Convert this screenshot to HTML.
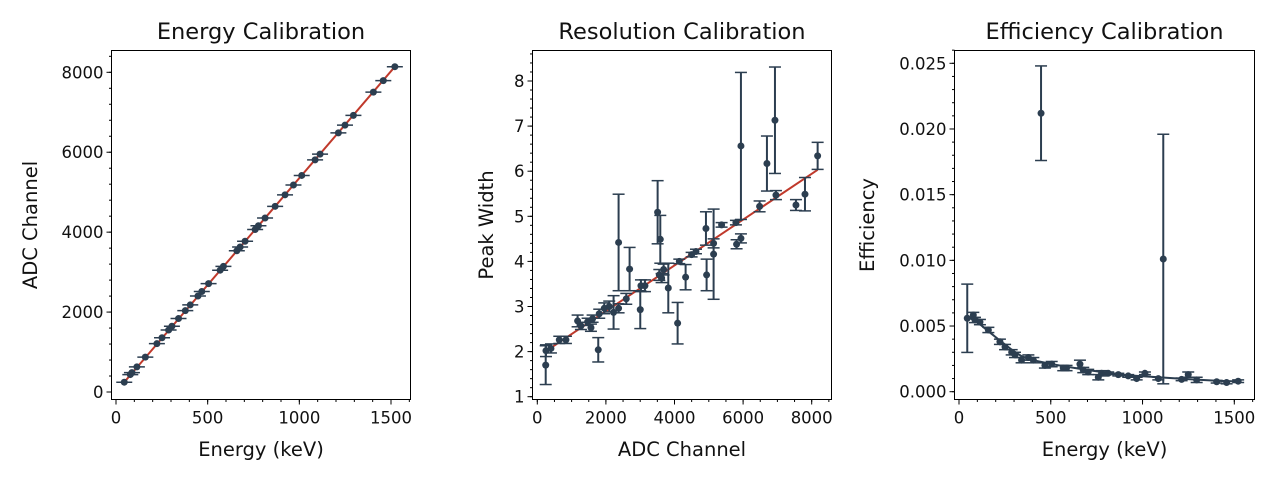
<!DOCTYPE html>
<html><head><meta charset="utf-8">
<style>
body{margin:0;background:#fff;}
svg{display:block;font-family:"DejaVu Sans","Liberation Sans",sans-serif;}
</style></head>
<body>
<svg id="fig" width="1280" height="480"></svg>
<script>
// ---- shared energies (keV) ----
const energies=[45,78,87,114,160,223,251,287,305,341,378,405,447,468,505,568,586,659,677,704,759,777,813,868,922,968,1013,1086,1113,1213,1249,1295,1404,1458,1521];
// ---- panel 1: ADC channel per energy ----
const adcChannels=[245,436,484,628,873,1209,1358,1550,1646,1838,2035,2179,2403,2515,2712,3048,3143,3533,3628,3772,4065,4161,4353,4646,4934,5179,5419,5808,5952,6485,6677,6922,7503,7791,8140];
const energyTicks=[0,500,1000,1500];
const adcTicks=[0,2000,4000,6000,8000];
// ---- panel 2: resolution ----
const resAdc=[245,253,398,641,835,1175,1272,1466,1564,1612,1777,1806,1952,2097,2224,2370,2370,2594,2691,3002,3022,3138,3508,3586,3557,3624,3683,3819,4091,4140,4324,4499,4626,4917,4936,5140,5140,5373,5791,5810,5937,5937,6481,6695,6929,6958,7541,7804,8173];
const resWidth=[1.70,2.02,2.07,2.26,2.26,2.68,2.57,2.66,2.53,2.73,2.04,2.84,2.96,3.0,2.87,4.42,2.96,3.17,3.83,2.93,3.46,3.46,5.09,4.49,3.70,3.63,3.82,3.41,2.63,4.0,3.65,4.15,4.22,4.73,3.70,4.40,4.16,4.81,4.86,4.38,6.56,4.51,5.22,6.17,7.13,5.47,5.25,5.49,6.34];
const resErr=[0.43,0.13,0.1,0.08,0.08,0.13,0.08,0.08,0.08,0.08,0.27,0.1,0.12,0.12,0.37,1.07,0.1,0.12,0.48,0.42,0.13,0.13,0.7,0.53,0.12,0.1,0.12,0.55,0.46,0.05,0.28,0.05,0.05,0.37,0.35,0.1,1.0,0.05,0.05,0.1,1.63,0.1,0.12,0.61,1.18,0.1,0.12,0.37,0.3];
const resFitX=[236,8173];
const resFitY=[2.0,6.03];
const resXTicks=[0,2000,4000,6000,8000];
const resYTicks=[1,2,3,4,5,6,7,8];
// ---- panel 3: efficiency ----
const effValues=[0.00559,0.00584,0.00546,0.0053,0.0047,0.0038,0.0034,0.0030,0.0028,0.0024,0.0026,0.0024,0.0212,0.0020,0.0021,0.0018,0.0018,0.0021,0.00165,0.0015,0.0011,0.0014,0.0014,0.0013,0.0012,0.0010,0.0014,0.0010,0.0101,0.00094,0.0013,0.0009,0.00076,0.0007,0.0008];
const effErr=[0.0026,0.0002,0.0002,0.0002,0.0002,0.0002,0.0002,0.0002,0.0002,0.0002,0.0002,0.0002,0.0036,0.0002,0.0002,0.0002,0.0002,0.0003,0.0002,0.0002,0.0002,0.0002,0.0001,0.0001,0.0001,0.0001,0.0001,0.0001,0.0095,0.0001,0.0002,0.0002,0.0001,0.0001,0.0001];
const effFitE=[45,100,160,223,287,341,405,505,586,677,777,868,968,1086,1213,1295,1404,1521];
const effFitV=[0.0057,0.0053,0.0046,0.0039,0.0032,0.0027,0.0024,0.0021,0.0019,0.0017,0.0015,0.0013,0.0012,0.0011,0.00098,0.00092,0.00083,0.00078];
const effYTicks=[0,0.005,0.010,0.015,0.020,0.025];
const effYLabels=["0.000","0.005","0.010","0.015","0.020","0.025"];

const NS="http://www.w3.org/2000/svg";
const svg=document.getElementById('fig');
const C="#2c3e50", RED="#c0392b";
function mk(tag,attrs,parent){const e=document.createElementNS(NS,tag);for(const k in attrs)e.setAttribute(k,attrs[k]);(parent||svg).appendChild(e);return e;}
function lin(d0,d1,r0,r1){return v=>r0+(v-d0)/(d1-d0)*(r1-r0);}

function panel(name,box,sx,sy,xt,xl,yt,yl,xMinor,yMinor,title,xlab,ylab,ylabX){
  const g=mk('g',{});
  
  
  const t=mk('text',{x:(box.l+box.r)/2,y:39,'font-size':22.5,'text-anchor':'middle',fill:'#111'},g);
  t.textContent=title;
  
  
  const r=mk('rect',{x:box.l,y:box.t,width:box.r-box.l,height:box.b-box.t,fill:'none',stroke:'#000','stroke-width':1},g);
  
  
  xMinor.forEach(v=>{const x=sx(v);mk('line',{x1:x,x2:x,y1:box.b,y2:box.b+2.5,stroke:'#000'},g);});
  yMinor.forEach(v=>{const y=sy(v);mk('line',{x1:box.l-2.5,x2:box.l,y1:y,y2:y,stroke:'#000'},g);});
  xt.forEach((v,i)=>{const x=sx(v);mk('line',{x1:x,x2:x,y1:box.b,y2:box.b+5,stroke:'#000'},g);
    const tx=mk('text',{x:x,y:box.b+24,'font-size':16.5,'text-anchor':'middle',fill:'#111'},g);tx.textContent=xl[i];
    
    });
  yt.forEach((v,i)=>{const y=sy(v);mk('line',{x1:box.l-5,x2:box.l,y1:y,y2:y,stroke:'#000'},g);
    const ty=mk('text',{x:box.l-8,y:y+6,'font-size':16.5,'text-anchor':'end',fill:'#111'},g);ty.textContent=yl[i];
    
    });
  const xa=mk('text',{x:(box.l+box.r)/2,y:456,'font-size':19.5,'text-anchor':'middle',fill:'#111'},g);xa.textContent=xlab;
  
  
  const ya=mk('text',{x:0,y:0,'font-size':19.5,'text-anchor':'middle',fill:'#111',transform:`translate(${ylabX},${(box.t+box.b)/2}) rotate(-90)`},g);ya.textContent=ylab;
  
  
  return g;
}
function range(a,b,s){const o=[];for(let v=a;v<=b+1e-9;v+=s)o.push(+v.toFixed(6));return o;}
function pt(g,x,y,eyTop,eyBot,exL,exR){
  if(eyTop!==null){mk('line',{x1:x,x2:x,y1:eyTop,y2:eyBot,stroke:C,'stroke-width':2},g);
    mk('line',{x1:x-6,x2:x+6,y1:eyTop,y2:eyTop,stroke:C,'stroke-width':1.5},g);
    mk('line',{x1:x-6,x2:x+6,y1:eyBot,y2:eyBot,stroke:C,'stroke-width':1.5},g);}
  if(exL!==null){mk('line',{x1:exL,x2:exR,y1:y,y2:y,stroke:C,'stroke-width':1.5},g);}
  const c=mk('circle',{cx:x,cy:y,r:3.5,fill:C},g);
  
  
}

// Panel 1
{const box={l:111.5,r:410.5,t:50.5,b:399.5};
 const sx=lin(0,1500,116,391), sy=lin(0,8000,392,72.3);
 const g=panel('energy-calibration-panel',box,sx,sy,energyTicks,energyTicks.map(String),adcTicks,adcTicks.map(String),range(0,1600,100),range(0,8400,400),'Energy Calibration','Energy (keV)','ADC Channel',37);
 const fl=mk('line',{x1:sx(energies[0]),y1:sy(adcChannels[0]),x2:sx(energies[energies.length-1]),y2:sy(adcChannels[adcChannels.length-1]),stroke:RED,'stroke-width':2},g);
 
 
 energies.forEach((e,i)=>{const x=sx(e),y=sy(adcChannels[i]);pt(g,x,y,null,null,x-8,x+8);});
}
// Panel 2
{const box={l:532.5,r:831.5,t:50.5,b:399.5};
 const sx=lin(0,8000,537.3,811.7), sy=lin(1,8,396.7,81);
 const g=panel('resolution-calibration-panel',box,sx,sy,resXTicks,resXTicks.map(String),resYTicks,resYTicks.map(String),range(0,8500,500),range(1,8.6,0.2),'Resolution Calibration','ADC Channel','Peak Width',493);
 const fl=mk('line',{x1:sx(resFitX[0]),y1:sy(resFitY[0]),x2:sx(resFitX[1]),y2:sy(resFitY[1]),stroke:RED,'stroke-width':2},g);
 
 
 resAdc.forEach((a,i)=>{const x=sx(a),y=sy(resWidth[i]);pt(g,x,y,sy(resWidth[i]+resErr[i]),sy(resWidth[i]-resErr[i]),null,null);});
}
// Panel 3
{const box={l:954.5,r:1254.5,t:50.5,b:399.5};
 const sx=lin(0,1500,959,1234.3), sy=lin(0,0.025,391.7,63.3);
 const g=panel('efficiency-calibration-panel',box,sx,sy,energyTicks,energyTicks.map(String),effYTicks,effYLabels,range(0,1600,100),range(0,0.026,0.001),'Efficiency Calibration','Energy (keV)','Efficiency',874);
 const d=effFitE.map((e,i)=>(i?'L':'M')+sx(e).toFixed(1)+','+sy(effFitV[i]).toFixed(1)).join('');
 const fp=mk('path',{d:d,fill:'none',stroke:C,'stroke-width':2},g);
 
 
 energies.forEach((e,i)=>{const x=sx(e),y=sy(effValues[i]);pt(g,x,y,sy(effValues[i]+effErr[i]),sy(effValues[i]-effErr[i]),null,null);});
}
</script>
</body></html>
